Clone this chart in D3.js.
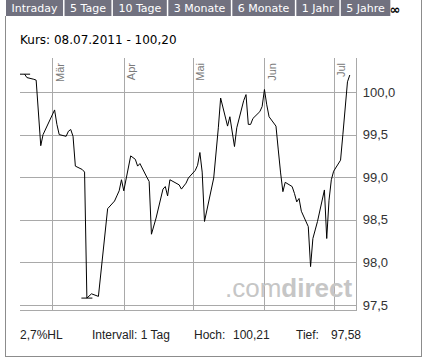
<!DOCTYPE html>
<html>
<head>
<meta charset="utf-8">
<script src="https://cdn.jsdelivr.net/npm/d3@7"></script>
<style>
  body { margin: 0; background: #fff; }
  svg { display: block; }
</style>
</head>
<body>
<svg id="chart" width="427" height="362"></svg>
<script>
const dates = [
  "2011-02-17", "2011-02-18", "2011-02-21", "2011-02-22", "2011-02-24", "2011-02-25",
  "2011-03-02", "2011-03-03", "2011-03-04", "2011-03-07", "2011-03-08", "2011-03-09",
  "2011-03-10", "2011-03-11", "2011-03-14", "2011-03-15", "2011-03-16", "2011-03-18",
  "2011-03-21", "2011-03-25", "2011-03-28", "2011-03-29", "2011-03-30", "2011-03-31",
  "2011-04-01", "2011-04-04", "2011-04-06", "2011-04-07", "2011-04-08", "2011-04-11",
  "2011-04-12", "2011-04-13", "2011-04-15", "2011-04-18", "2011-04-19", "2011-04-20",
  "2011-04-21", "2011-04-25", "2011-04-26", "2011-04-28", "2011-04-29", "2011-05-02",
  "2011-05-03", "2011-05-04", "2011-05-05", "2011-05-06", "2011-05-10", "2011-05-12",
  "2011-05-13", "2011-05-16", "2011-05-17", "2011-05-19", "2011-05-20", "2011-05-23",
  "2011-05-24", "2011-05-25", "2011-05-26", "2011-05-27", "2011-05-30", "2011-05-31",
  "2011-06-01", "2011-06-02", "2011-06-03", "2011-06-06", "2011-06-07", "2011-06-08",
  "2011-06-09", "2011-06-10", "2011-06-13", "2011-06-14", "2011-06-15", "2011-06-16",
  "2011-06-17", "2011-06-20", "2011-06-21", "2011-06-22", "2011-06-23", "2011-06-24",
  "2011-06-27", "2011-06-28", "2011-06-29", "2011-06-30", "2011-07-01", "2011-07-04",
  "2011-07-05", "2011-07-07", "2011-07-08"
];
const closes = [
  100.21, 100.17, 100.15, 100.14, 99.37, 99.50,
  99.79, 99.62, 99.50, 99.48, 99.54, 99.56,
  99.48, 99.13, 99.09, 99.06, 97.58, 97.63,
  97.60, 98.63, 98.72, 98.78, 98.84, 98.97,
  98.84, 99.25, 99.21, 99.13, 99.16, 99.00,
  98.95, 98.33, 98.52, 98.86, 98.89, 98.78,
  98.97, 98.91, 98.86, 98.93, 98.99, 99.08,
  99.14, 99.29, 99.06, 98.48, 98.99, 99.58,
  99.93, 99.60, 99.71, 99.36, 99.58, 99.90,
  99.97, 99.62, 99.62, 99.69, 99.77, 99.83,
  100.03, 99.85, 99.71, 99.60, 99.32, 99.05,
  98.83, 98.94, 98.89, 98.81, 98.71, 98.75,
  98.60, 98.42, 97.95, 98.28, 98.38, 98.48,
  98.85, 98.28, 98.73, 98.97, 99.07, 99.20,
  99.50, 100.12, 100.20
];
const tabs = ["Intraday", "5 Tage", "10 Tage", "3 Monate", "6 Monate", "1 Jahr", "5 Jahre"];
const monthLabels = ["Mär", "Apr", "Mai", "Jun", "Jul"];
const yTicks = [97.5, 98.0, 98.5, 99.0, 99.5, 100.0];

const parse = d3.utcParse("%Y-%m-%d");
const data = dates.map((d, i) => ({ date: parse(d), value: closes[i] }));

const de = d3.formatLocale({ decimal: ",", thousands: ".", grouping: [3], currency: ["", " €"] });
const fmt1 = de.format(".1f");
const fmt2 = de.format(".2f");

const svg = d3.select("#chart");

// Plotbereich
const plot = { left: 20, right: 356.7, top: 58, bottom: 310 };

const x = d3.scaleUtc()
  .domain([parse("2011-02-15"), parse("2011-07-11")])
  .range([plot.left, plot.right]);
const y = d3.scaleLinear()
  .domain([97.44, 100.40])
  .range([plot.bottom, plot.top]);

// Reiter oben
const tabG = svg.append("g");
let tx = 6;
tabs.forEach((t) => {
  const g = tabG.append("g");
  const rect = g.append("rect").attr("x", tx).attr("y", 0).attr("height", 16).attr("fill", "#71717f");
  const label = g.append("text")
    .attr("x", tx + 5.5).attr("y", 12)
    .attr("fill", "#fff")
    .style("font", "11px 'DejaVu Sans'")
    .text(t);
  const w = label.node().getComputedTextLength() + 11;
  rect.attr("width", w);
  tx += w + 1.5;
});
tabG.append("text")
  .attr("x", 395).attr("y", 14)
  .attr("text-anchor", "middle")
  .style("font", "bold 13px 'DejaVu Sans'")
  .attr("fill", "#000")
  .text("∞");

// Rahmen
svg.append("path")
  .attr("d", "M5.5,16V356.5H421.5V0")
  .attr("fill", "none")
  .attr("stroke", "#8c8c8c")
  .attr("shape-rendering", "crispEdges");

// Kurszeile
const last = data[data.length - 1];
svg.append("text")
  .attr("x", 20).attr("y", 44)
  .style("font", "12px 'DejaVu Sans'")
  .attr("fill", "#000")
  .text(`Kurs: ${d3.utcFormat("%d.%m.%Y")(last.date)} - ${fmt2(last.value)}`);

// Achsen / Gitter
const gridColor = "#a9a9a9";

const yAxis = d3.axisRight(y)
  .tickValues(yTicks)
  .tickSize(-(plot.right - plot.left))
  .tickPadding(6)
  .tickFormat(fmt1);

const yAxisGroup = svg.append("g")
  .attr("transform", `translate(${plot.right},0)`)
  .call(yAxis);
yAxisGroup.select(".domain").remove();
yAxisGroup.selectAll("line").attr("stroke", gridColor).attr("shape-rendering", "crispEdges");
yAxisGroup.selectAll("text")
  .attr("fill", "#333")
  .style("font", "13px 'Liberation Sans'");

const monthTicks = d3.utcMonth.range(parse("2011-03-01"), parse("2011-07-02"));
const xAxis = d3.axisBottom(x)
  .tickValues(monthTicks)
  .tickSize(-(plot.bottom - plot.top))
  .tickFormat((d, i) => monthLabels[i]);

const xAxisGroup = svg.append("g")
  .attr("transform", `translate(0,${plot.bottom})`)
  .call(xAxis);
xAxisGroup.select(".domain").remove();
xAxisGroup.selectAll("line").attr("stroke", gridColor).attr("shape-rendering", "crispEdges");
xAxisGroup.selectAll("text")
  .attr("transform", "rotate(-90)")
  .attr("x", plot.bottom - 63)
  .attr("y", 11)
  .attr("dy", 0)
  .attr("text-anchor", "end")
  .attr("fill", "#7a7a7a")
  .style("font", "11px 'Liberation Sans'");

// rechter und unterer Rand des Plots
svg.append("path")
  .attr("d", `M${plot.left},${plot.bottom}H${plot.right}V${plot.top}`)
  .attr("fill", "none")
  .attr("stroke", gridColor)
  .attr("shape-rendering", "crispEdges");

// Wasserzeichen
const wm = svg.append("text")
  .attr("x", 225).attr("y", 297)
  .attr("fill", "#c6c6c6")
  .style("font-family", "'Liberation Sans'")
  .style("font-size", "26px");
wm.append("tspan").text(".com");
wm.append("tspan").style("font-weight", "bold").text("direct");

// Kurslinie
const line = d3.line()
  .x((d) => x(d.date))
  .y((d) => y(d.value));

svg.append("path")
  .datum(data)
  .attr("d", line)
  .attr("fill", "none")
  .attr("stroke", "#000")
  .attr("stroke-width", 1);

// Hoch/Tief-Markierungen
const hi = data.reduce((a, b) => (b.value > a.value ? b : a));
const lo = data.reduce((a, b) => (b.value < a.value ? b : a));
[hi, lo].forEach((p) => {
  const cx = x(p.date);
  svg.append("line")
    .attr("x1", Math.max(plot.left, cx - 5.5)).attr("x2", cx + 5.5)
    .attr("y1", y(p.value)).attr("y2", y(p.value))
    .attr("stroke", "#000");
});

// Fußzeile
const hlPct = ((hi.value - lo.value) / lo.value) * 100;
const footer = [
  { x: 20, t: `${fmt1(hlPct)}%HL` },
  { x: 92, t: "Intervall: 1 Tag" },
  { x: 194, t: "Hoch:" },
  { x: 233, t: fmt2(hi.value) },
  { x: 296, t: "Tief:" },
  { x: 331, t: fmt2(lo.value) }
];
svg.append("g")
  .selectAll("text")
  .data(footer)
  .join("text")
  .attr("x", (d) => d.x)
  .attr("y", 339)
  .attr("fill", "#222")
  .style("font", "12px 'Liberation Sans'")
  .text((d) => d.t);
</script>
</body>
</html>
